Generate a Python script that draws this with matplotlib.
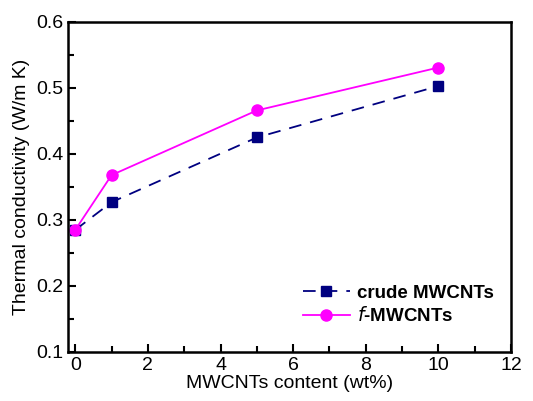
import matplotlib.pyplot as plt
from matplotlib.ticker import MultipleLocator

plt.rcParams['font.family'] = ['Liberation Sans', 'DejaVu Sans']

# --------------------------------------------------
# Data
# --------------------------------------------------
content = [0, 1, 5, 10]
crude = [0.285, 0.327, 0.425, 0.503]
functional = [0.285, 0.368, 0.466, 0.531]

fig = plt.figure(figsize=(5.33, 4.01), dpi=100)
ax = fig.add_axes([68 / 533, 1 - 352 / 401, 443 / 533, 330 / 401])

ax.plot(content, crude, color="#000080", linestyle=(0, (7, 5)), linewidth=1.3,
        marker="s", markersize=7, label="crude MWCNTs")
ax.plot(content, functional, color="#FF00FF", linestyle="-", linewidth=1.3,
        marker="o", markersize=8, label="$\\bf{\\it{f}}$-MWCNTs")

ax.set_xlim(-0.2, 12)
ax.set_ylim(0.1, 0.6)
ax.xaxis.set_major_locator(MultipleLocator(2))
ax.xaxis.set_minor_locator(MultipleLocator(1))
ax.yaxis.set_major_locator(MultipleLocator(0.1))
ax.yaxis.set_minor_locator(MultipleLocator(0.05))
ax.tick_params(which="both", direction="in", top=False, right=False, width=1.5)
ax.tick_params(which="major", length=6, labelsize=14)
ax.tick_params(which="minor", length=4)
for s in ax.spines.values():
    s.set_linewidth(1.8)

ax.set_xlabel("MWCNTs content (wt%)", fontsize=14, labelpad=1)
ax.set_ylabel("Thermal conductivity (W/m K)", fontsize=14, labelpad=4)

leg = ax.legend(loc="lower right", bbox_to_anchor=(1.0, 0.03), frameon=False,
                prop={"weight": "bold", "size": 13.5}, handlelength=2.5,
                handletextpad=0.4, labelspacing=0.25)

plt.savefig("out.png", dpi=100)
